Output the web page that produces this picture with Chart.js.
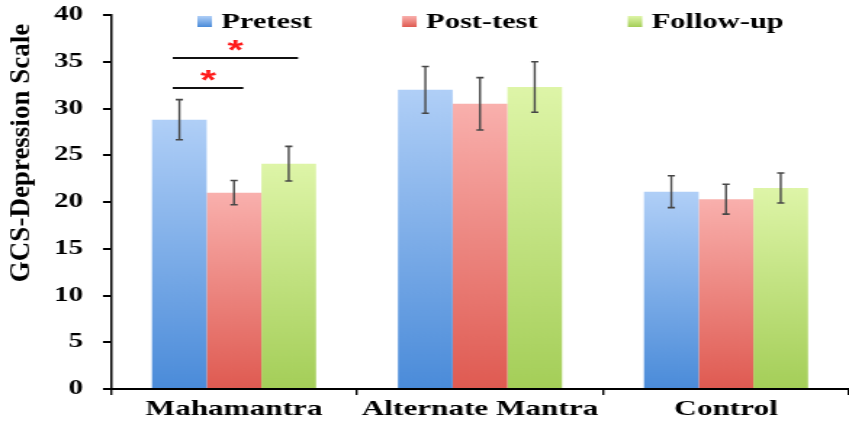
<!DOCTYPE html>
<html>
<head>
<meta charset="utf-8">
<script src="https://cdn.jsdelivr.net/npm/chart.js@4.4.1/dist/chart.umd.min.js"></script>
<style>
  html, body { margin: 0; padding: 0; background: #ffffff; overflow: hidden; }
  /* the figure is laid out narrow and widened as a whole */
  #wrap { position: absolute; left: 0; top: 0; width: 585px; height: 432px;
          transform: scaleX(1.4513); transform-origin: 0 0; }
</style>
</head>
<body>
<div id="wrap"><canvas id="chart"></canvas></div>
<script>
// ---- data ----
const groups = ['Mahamantra', 'Alternate Mantra', 'Control'];
const seriesNames = ['Pretest', 'Post-test', 'Follow-up'];
const pretest = [28.8, 32.0, 21.1];
const posttest = [21.0, 30.5, 20.3];
const followup = [24.1, 32.3, 21.5];
const pretestErr = [2.15, 2.5, 1.7];
const posttestErr = [1.3, 2.8, 1.6];
const followupErr = [1.85, 2.7, 1.6];
const yTicks = [0, 5, 10, 15, 20, 25, 30, 35, 40];
const yTitle = 'GCS-Depression Scale';
// significance brackets inside the Mahamantra group (series index pairs, bracket level)
const sigGroup = [0, 0];
const sigFrom = [0, 0];
const sigTo = [2, 1];
const sigLevel = [35.4, 32.2];

// ---- style ----
const STRETCH = 1.4513;
const SERIF = '"Liberation Serif", "Times New Roman", serif';
const fills = [
  ['#b0cff7', '#4a8bd9'],
  ['#f9b0ad', '#df5a51'],
  ['#def5a8', '#a4ce58']
];

function barFill(stops) {
  return (c) => {
    const chart = c.chart;
    const ys = chart.scales && chart.scales.y;
    if (!ys || c.type !== 'data') return stops[1];
    const top = ys.getPixelForValue(c.raw);
    const base = ys.getPixelForValue(0);
    if (!isFinite(top) || !isFinite(base) || top === base) return stops[1];
    const g = chart.ctx.createLinearGradient(0, top, 0, base);
    g.addColorStop(0, stops[0]);
    g.addColorStop(1, stops[1]);
    return g;
  };
}

const values = [pretest, posttest, followup];
const errors = [pretestErr, posttestErr, followupErr];

const errorBars = {
  id: 'errorBars',
  afterDatasetsDraw(chart) {
    const ctx = chart.ctx, ys = chart.scales.y;
    ctx.save();
    ctx.strokeStyle = '#474747';
    values.forEach((vals, i) => {
      const meta = chart.getDatasetMeta(i);
      meta.data.forEach((bar, j) => {
        const v = vals[j], e = errors[i][j];
        const yT = ys.getPixelForValue(v + e), yB = ys.getPixelForValue(v - e);
        ctx.lineWidth = 1.4;
        ctx.beginPath();
        ctx.moveTo(bar.x, yT); ctx.lineTo(bar.x, yB);
        ctx.stroke();
        ctx.lineWidth = 1.6;
        ctx.beginPath();
        ctx.moveTo(bar.x - 2.5, yT); ctx.lineTo(bar.x + 2.5, yT);
        ctx.moveTo(bar.x - 2.5, yB); ctx.lineTo(bar.x + 2.5, yB);
        ctx.stroke();
      });
    });
    ctx.restore();
  }
};

const brackets = {
  id: 'brackets',
  afterDatasetsDraw(chart) {
    const ctx = chart.ctx, ys = chart.scales.y;
    ctx.save();
    sigLevel.forEach((lvl, k) => {
      const a = chart.getDatasetMeta(sigFrom[k]).data[sigGroup[k]];
      const b = chart.getDatasetMeta(sigTo[k]).data[sigGroup[k]];
      const w = a.width;
      const x1 = a.x - 0.12 * w, x2 = b.x + 0.17 * w;
      const y = ys.getPixelForValue(lvl);
      ctx.strokeStyle = '#111111';
      ctx.lineWidth = 2;
      ctx.beginPath();
      ctx.moveTo(x1, y); ctx.lineTo(x2, y);
      ctx.stroke();
      ctx.fillStyle = '#ff1a1a';
      ctx.font = 'bold 28px "Liberation Sans", Arial, sans-serif';
      ctx.textAlign = 'center';
      ctx.textBaseline = 'alphabetic';
      ctx.fillText('*', (x1 + x2) / 2, y + 1);
    });
    ctx.restore();
  }
};

const topLegend = {
  id: 'topLegend',
  afterDraw(chart) {
    const ctx = chart.ctx;
    ctx.save();
    ctx.font = 'bold 21px ' + SERIF;
    ctx.textBaseline = 'middle';
    ctx.textAlign = 'left';
    const yMid = 22;
    let x = chart.chartArea.left + 59.5;
    chart.data.datasets.forEach((ds, i) => {
      const g = ctx.createLinearGradient(0, yMid - 6, 0, yMid + 5);
      g.addColorStop(0, fills[i][0]);
      g.addColorStop(1, fills[i][1]);
      ctx.fillStyle = g;
      ctx.fillRect(x, yMid - 6, 10, 11);
      ctx.fillStyle = '#000000';
      ctx.fillText(ds.label, x + 16.5, yMid + 1);
      x += 16.5 + ctx.measureText(ds.label).width + 62;
    });
    ctx.restore();
  }
};

const sideTitle = {
  id: 'sideTitle',
  afterDraw(chart) {
    const ctx = chart.ctx;
    const cx = 15.2, cy = 153;
    ctx.save();
    ctx.translate(cx, cy);
    ctx.rotate(-Math.PI / 2);
    ctx.scale(1, 1 / STRETCH);
    ctx.font = 'bold 27px ' + SERIF;
    ctx.fillStyle = '#000000';
    ctx.textAlign = 'center';
    ctx.textBaseline = 'middle';
    ctx.fillText(yTitle, 0, 0);
    ctx.restore();
  }
};

new Chart(document.getElementById('chart'), {
  type: 'bar',
  data: {
    labels: groups,
    datasets: seriesNames.map((name, i) => ({
      label: name,
      data: values[i],
      backgroundColor: barFill(fills[i]),
      borderWidth: 0,
      categoryPercentage: 0.667,
      barPercentage: 1.0
    }))
  },
  options: {
    responsive: true,
    maintainAspectRatio: false,
    animation: false,
    layout: { padding: { top: 15, left: 0, right: 0, bottom: 0 } },
    plugins: { legend: { display: false }, tooltip: { enabled: false } },
    scales: {
      x: {
        offset: true,
        grid: { display: true, drawOnChartArea: false, drawTicks: true, tickLength: 6, color: '#000000', lineWidth: 1.4 },
        border: { display: true, color: '#000000', width: 2 },
        ticks: { color: '#000000', padding: 2, font: { family: SERIF, size: 21.5, weight: 'bold' } },
        afterFit: (s) => { s.height = 43; s.paddingLeft = 0; s.paddingRight = 0; }
      },
      y: {
        min: 0, max: 40,
        afterBuildTicks: (s) => { s.ticks = yTicks.map(v => ({ value: v })); },
        grid: { display: true, drawOnChartArea: false, drawTicks: true, tickLength: 5.5, color: '#000000', lineWidth: 2 },
        border: { display: true, color: '#000000', width: 1.5 },
        ticks: { color: '#000000', padding: 13.8, font: { family: SERIF, size: 20, weight: 'bold' } },
        title: { display: false },
        afterFit: (s) => { s.width = 76.5; s.paddingTop = 0; s.paddingBottom = 0; }
      }
    }
  },
  plugins: [errorBars, brackets, topLegend, sideTitle]
});
</script>
</body>
</html>
